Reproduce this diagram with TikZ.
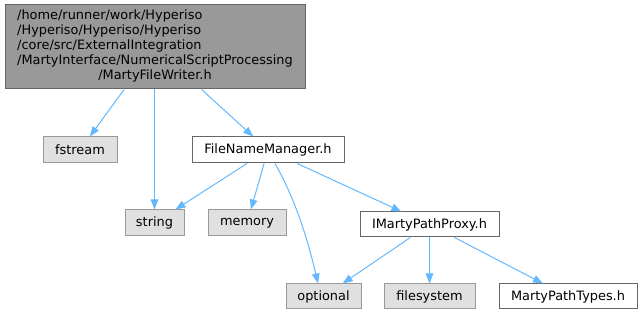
\documentclass[tikz,border=0pt]{standalone}
\usepackage{fontspec}
\setmainfont{DejaVu Sans}
\usetikzlibrary{arrows.meta,calc}
\definecolor{edgec}{HTML}{63B8FF}
\definecolor{topfill}{HTML}{999999}
\definecolor{topdraw}{HTML}{666666}
\definecolor{sysfill}{HTML}{E0E0E0}
\definecolor{sysdraw}{HTML}{999999}
\tikzset{
  box/.style={draw, line width=1pt, inner sep=0pt, text=black, font=\fontsize{12.9}{15}\selectfont},
  sysbox/.style={box, fill=sysfill, draw=sysdraw},
  filebox/.style={box, fill=white, draw=topdraw},
  mainbox/.style={box, fill=topfill, draw=topdraw},
  dep/.style={draw=edgec, line width=1pt, -{Triangle[length=10pt,width=7.5pt]}, edgec},
}
\begin{document}
\begin{tikzpicture}[x=1pt,y=-1pt]
\useasboundingbox (0,0) rectangle (643,315);
\node[mainbox, minimum width=300pt, minimum height=84pt] (top) at (155,47)
  {\begin{tabular}{@{}l@{}}/home/runner/work/Hyperiso\\/Hyperiso/Hyperiso/Hyperiso\\/core/src/ExternalIntegration\\/MartyInterface/NumericalScriptProcessing\\\multicolumn{1}{@{}c@{}}{/MartyFileWriter.h}\end{tabular}};
\node[sysbox, minimum width=74pt, minimum height=26pt] (fstream) at (80,150) {fstream};
\node[filebox, minimum width=152pt, minimum height=26pt] (fnm) at (268,150) {FileNameManager.h};
\node[sysbox, minimum width=59pt, minimum height=26pt] (string) at (154.5,223) {string};
\node[sysbox, minimum width=78pt, minimum height=26pt] (memory) at (247,223) {memory};
\node[filebox, minimum width=139pt, minimum height=25pt] (impp) at (429.5,224.5) {IMartyPathProxy.h};
\node[sysbox, minimum width=75pt, minimum height=25pt] (optional) at (323.5,296.5) {optional};
\node[sysbox, minimum width=91pt, minimum height=25pt] (filesystem) at (429.5,296.5) {filesystem};
\node[filebox, minimum width=138pt, minimum height=25pt] (mpt) at (568,296.5) {MartyPathTypes.h};
\draw[dep] (top) -- (fstream);
\draw[dep] (top.south -| string) -- (string);
\draw[dep] (top) -- (fnm);
\draw[dep] (fnm) -- (string);
\draw[dep] (fnm) -- (memory);
\draw[dep] ($(fnm.south)+(7,0)$) .. controls (297,202) and (309,245) .. ($(optional.north)+(-5.5,0)$);
\draw[dep] (fnm) -- (impp);
\draw[dep] (impp) -- (optional);
\draw[dep] (impp) -- (filesystem);
\draw[dep] (impp) -- (mpt);
\end{tikzpicture}
\end{document}
